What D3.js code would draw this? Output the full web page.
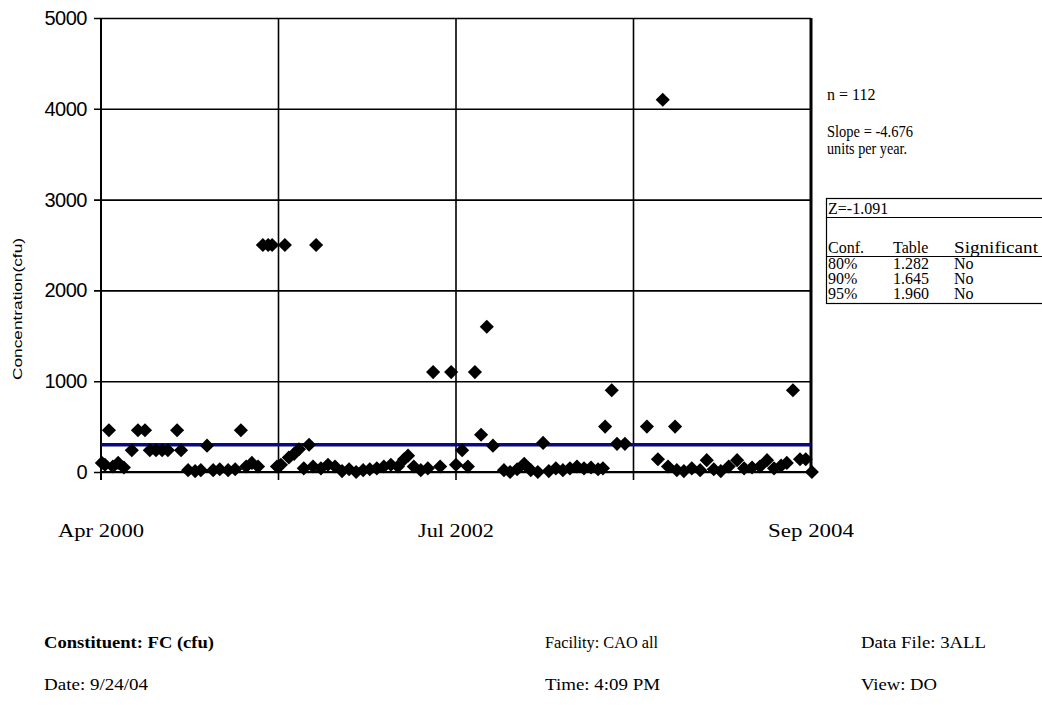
<!DOCTYPE html>
<html>
<head>
<meta charset="utf-8">
<script src="https://cdn.jsdelivr.net/npm/d3@7"></script>
<style>
  body { margin: 0; background: #fff; }
  svg { display: block; }
  .serif { font-family: "Liberation Serif", "Times New Roman", serif; fill: #000; }
  .sans { font-family: "Liberation Sans", Arial, sans-serif; fill: #000; }
</style>
</head>
<body>
<script>
// sample dates and concentrations (cfu)
var sampleDates = [
  "2000-04-03","2000-04-10","2000-04-19","2000-04-28","2000-05-10","2000-05-23","2000-06-10","2000-06-24",
  "2000-07-10","2000-07-21","2000-08-04","2000-08-18","2000-08-31","2000-09-21","2000-09-30","2000-10-16",
  "2000-11-01","2000-11-14","2000-11-28","2000-12-12","2000-12-27","2001-01-15","2001-01-31","2001-02-13",
  "2001-02-25","2001-03-10","2001-03-24","2001-04-04","2001-04-16","2001-04-25","2001-05-06","2001-05-15",
  "2001-05-24","2001-06-02","2001-06-14","2001-06-25","2001-07-06","2001-07-18","2001-07-27","2001-08-03",
  "2001-08-14","2001-08-30","2001-09-15","2001-10-01","2001-10-17","2001-11-02","2001-11-18","2001-12-03",
  "2001-12-19","2002-01-04","2002-01-20","2002-02-05","2002-02-19","2002-02-28","2002-03-13","2002-03-29",
  "2002-04-14","2002-04-26","2002-05-12","2002-06-06","2002-06-17","2002-07-01","2002-07-14","2002-07-30",
  "2002-08-13","2002-08-26","2002-09-09","2002-10-04","2002-10-18","2002-11-03","2002-11-19","2002-12-04",
  "2002-12-20","2003-01-01","2003-01-14","2003-01-30","2003-02-15","2003-03-03","2003-03-19","2003-04-04",
  "2003-04-20","2003-05-06","2003-05-17","2003-05-22","2003-06-06","2003-06-18","2003-07-06","2003-08-25",
  "2003-09-19","2003-09-30","2003-10-12","2003-10-28","2003-11-01","2003-11-17","2003-12-05","2003-12-24",
  "2004-01-08","2004-01-24","2004-02-09","2004-02-27","2004-03-17","2004-04-02","2004-04-20","2004-05-08",
  "2004-05-24","2004-06-09","2004-06-25","2004-07-08","2004-07-22","2004-08-07","2004-08-20","2004-09-03"
];
var sampleValues = [
  100, 80, 460, 60, 100, 50, 240, 460,
  460, 240, 240, 240, 240, 460, 240, 20,
  10, 20, 290, 20, 30, 20, 30, 460,
  60, 100, 60, 2500, 2500, 2500, 60, 80,
  2500, 160, 200, 250, 40, 300, 60, 2500,
  40, 80, 60, 10, 30, 0, 20, 30,
  40, 60, 80, 60, 140, 180, 60, 20,
  40, 1100, 60, 1100, 80, 240, 60, 1100,
  410, 1600, 290, 20, 0, 30, 90, 20,
  0, 320, 10, 40, 20, 40, 60, 40,
  50, 30, 40, 500, 900, 310, 310, 500,
  140, 4100, 60, 500, 20, 10, 40, 20,
  130, 30, 10, 60, 130, 40, 50, 60,
  130, 40, 70, 100, 900, 140, 140, 0
];

// blue reference line (start, end of record)
var trendValues = [300, 300];

var yTicks = [0, 1000, 2000, 3000, 4000, 5000];
var xTickDates = ["2000-04-01", "2002-06-17", "2004-09-01"];
var xTickLabels = ["Apr 2000", "Jul 2002", "Sep 2004"];

var statLines = ["n = 112", "Slope = -4.676", "units per year."];
var zLabel = "Z=-1.091";
var tableHeader = ["Conf.", "Table", "Significant"];
var tableConf = ["80%", "90%", "95%"];
var tableValue = ["1.282", "1.645", "1.960"];
var tableSignif = ["No", "No", "No"];

var footerLeft = ["Constituent: FC (cfu)", "Date: 9/24/04"];
var footerMid = ["Facility: CAO all", "Time: 4:09 PM"];
var footerRight = ["Data File: 3ALL", "View: DO"];

var parseDate = d3.timeParse("%Y-%m-%d");
var data = sampleDates.map(function(d, i) {
  return { date: parseDate(d), value: sampleValues[i] };
});

var svgWidth = 1042, svgHeight = 705;
var plot = { left: 101, right: 811, top: 18, bottom: 472 };

var svg = d3.select("body").append("svg")
  .attr("width", svgWidth)
  .attr("height", svgHeight);

svg.append("rect").attr("width", svgWidth).attr("height", svgHeight).attr("fill", "#fff");

var x = d3.scaleTime()
  .domain([parseDate("2000-04-01"), parseDate("2004-09-01")])
  .range([plot.left, plot.right]);

var y = d3.scaleLinear()
  .domain([0, 5000])
  .range([plot.bottom, plot.top]);

// horizontal grid + y axis labels
var yAxis = d3.axisLeft(y)
  .tickValues(yTicks)
  .tickSize(-(plot.right - plot.left))
  .tickSizeOuter(0)
  .tickPadding(14)
  .tickFormat(d3.format("d"));

var yG = svg.append("g")
  .attr("transform", `translate(${plot.left},0)`)
  .call(yAxis);
yG.select(".domain").remove();
yG.selectAll(".tick line")
  .attr("x1", -7)
  .attr("stroke", "#000")
  .attr("stroke-width", 1.6);
yG.selectAll(".tick text")
  .attr("class", "sans")
  .style("font-size", "20px")
  .style("letter-spacing", "-0.5px");

// vertical grid at quarters of the time span
var xr = x.range();
var vGrid = d3.range(5).map(function(i) { return xr[0] + i * (xr[1] - xr[0]) / 4; });
svg.append("g").selectAll("line")
  .data(vGrid)
  .enter()
  .append("line")
  .attr("x1", d => d).attr("x2", d => d)
  .attr("y1", plot.top)
  .attr("y2", (d, i) => i === 4 ? plot.bottom : plot.bottom + 8)
  .attr("stroke", "#000")
  .attr("stroke-width", (d, i) => i === 4 ? 3 : (i === 0 ? 2 : 1.6));

// x axis baseline
svg.append("line")
  .attr("x1", plot.left).attr("x2", plot.right)
  .attr("y1", y(0)).attr("y2", y(0))
  .attr("stroke", "#000")
  .attr("stroke-width", 2);

// x tick labels
svg.append("g").selectAll("text")
  .data(xTickDates)
  .enter()
  .append("text")
  .attr("class", "serif")
  .attr("x", d => x(parseDate(d)))
  .attr("y", 537)
  .attr("text-anchor", "middle")
  .attr("textLength", (d, i) => i === 1 ? 76 : 86)
  .attr("lengthAdjust", "spacingAndGlyphs")
  .style("font-size", "18px")
  .text((d, i) => xTickLabels[i]);

// y axis title
svg.append("text")
  .attr("class", "sans")
  .attr("transform", "translate(22,309) rotate(-90)")
  .attr("text-anchor", "middle")
  .attr("textLength", 142)
  .attr("lengthAdjust", "spacingAndGlyphs")
  .style("font-size", "13px")
  .text("Concentration(cfu)");

// blue trend line
svg.append("line")
  .attr("x1", x.range()[0]).attr("x2", x.range()[1])
  .attr("y1", y(trendValues[0])).attr("y2", y(trendValues[1]))
  .attr("stroke", "#0a0a80")
  .attr("stroke-width", 3.5);

// diamonds
var diamond = d3.symbol().type(d3.symbolSquare).size(100);
svg.append("g").selectAll("path")
  .data(data)
  .enter()
  .append("path")
  .attr("d", diamond)
  .attr("transform", d => `translate(${x(d.date)},${y(d.value)}) rotate(45)`)
  .attr("fill", "#000");

// stats text
var stats = svg.append("g").attr("class", "serif").style("font-size", "16px");
stats.append("text").attr("x", 827).attr("y", 100).text(statLines[0]);
stats.append("text").attr("x", 827).attr("y", 137)
  .attr("textLength", 86).attr("lengthAdjust", "spacingAndGlyphs").text(statLines[1]);
stats.append("text").attr("x", 827).attr("y", 154)
  .attr("textLength", 80).attr("lengthAdjust", "spacingAndGlyphs").text(statLines[2]);

// significance table
var tbl = svg.append("g").attr("class", "serif").style("font-size", "16px");
tbl.append("rect")
  .attr("x", 826.5).attr("y", 198.5)
  .attr("width", 240).attr("height", 105)
  .attr("fill", "none").attr("stroke", "#000").attr("stroke-width", 1.2);
tbl.append("line").attr("x1", 826).attr("x2", 1042).attr("y1", 217.5).attr("y2", 217.5)
  .attr("stroke", "#000").attr("stroke-width", 1.2);
tbl.append("line").attr("x1", 826).attr("x2", 1042).attr("y1", 256.5).attr("y2", 256.5)
  .attr("stroke", "#000").attr("stroke-width", 1.2);
tbl.append("text").attr("x", 828).attr("y", 214).text(zLabel);
var cols = [828, 893, 954];
tableHeader.forEach(function(h, i) {
  var t = tbl.append("text").attr("x", cols[i]).attr("y", 253).text(h);
  if (i === 2) t.attr("textLength", 84).attr("lengthAdjust", "spacingAndGlyphs");
});
tableConf.forEach(function(c, i) {
  var yy = 269 + i * 15;
  tbl.append("text").attr("x", cols[0]).attr("y", yy).text(c);
  tbl.append("text").attr("x", cols[1]).attr("y", yy).text(tableValue[i]);
  tbl.append("text").attr("x", cols[2]).attr("y", yy).text(tableSignif[i]);
});

// footer
var footWidths = [[170, 104], [113, 115], [125, 76]];
var foot = svg.append("g").attr("class", "serif").style("font-size", "16px");
[footerLeft, footerMid, footerRight].forEach(function(col, c) {
  var fx = [44, 545, 861][c];
  col.forEach(function(t, r) {
    foot.append("text")
      .attr("x", fx)
      .attr("y", 648 + r * 42)
      .attr("textLength", footWidths[c][r])
      .attr("lengthAdjust", "spacingAndGlyphs")
      .style("font-weight", c === 0 && r === 0 ? "bold" : "normal")
      .text(t);
  });
});
</script>
</body>
</html>
